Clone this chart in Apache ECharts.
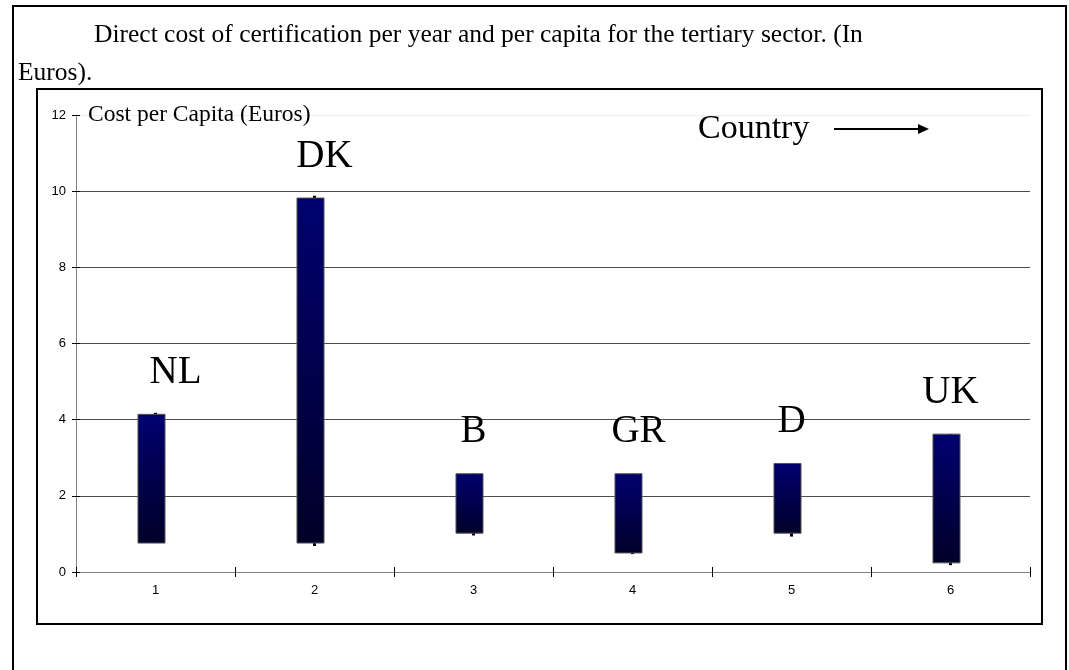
<!DOCTYPE html>
<html>
<head>
<meta charset="utf-8">
<script src="https://cdn.jsdelivr.net/npm/echarts@6/dist/echarts.min.js"></script>
<style>
  html, body { margin: 0; padding: 0; background: #fff; }
  #main { width: 1069px; height: 670px; }
</style>
</head>
<body>
<div id="main"></div>
<script>
// data
var categories = ['1', '2', '3', '4', '5', '6'];
var countries = ['NL', 'DK', 'B', 'GR', 'D', 'UK'];
var barLow = [0.76, 0.76, 1.02, 0.50, 1.02, 0.24];
var barHigh = [4.14, 9.82, 2.58, 2.58, 2.85, 3.62];
var wickLow = [0.76, 0.68, 0.96, 0.47, 0.93, 0.18];
var wickHigh = [4.18, 9.88, 2.58, 2.58, 2.85, 3.62];
var yTicks = [0, 2, 4, 6, 8, 10, 12];

// small tweaks for where the country labels sit
var labelDx = [20, 10, 0, 6, 0, 0];

var chart = echarts.init(document.getElementById('main'));

var seriesData = categories.map(function (c, i) {
  return [i, barLow[i], barHigh[i], wickLow[i], wickHigh[i]];
});

function renderItem(params, api) {
  var i = api.value(0);
  var lo = api.coord([i, api.value(1)]);
  var hi = api.coord([i, api.value(2)]);
  var wl = api.coord([i, api.value(3)]);
  var wh = api.coord([i, api.value(4)]);
  var bw = api.size([1, 0])[0] * 0.17;
  var x = lo[0] - 4;
  return {
    type: 'group',
    children: [
      {
        type: 'line',
        shape: { x1: wl[0], y1: wl[1], x2: wh[0], y2: wh[1] },
        style: { stroke: '#000', lineWidth: 3 },
        z2: 1
      },
      {
        type: 'rect',
        shape: { x: x - bw / 2, y: hi[1], width: bw, height: lo[1] - hi[1] },
        style: {
          fill: new echarts.graphic.LinearGradient(0, 0, 0, 1, [
            { offset: 0, color: '#000070' },
            { offset: 1, color: '#000028' }
          ]),
          stroke: '#555',
          lineWidth: 1
        },
        z2: 2
      },
      {
        type: 'text',
        x: lo[0] + labelDx[i],
        y: hi[1] - 22,
        style: {
          text: countries[i],
          fill: '#000',
          font: '39px "Liberation Serif", serif',
          align: 'center',
          verticalAlign: 'bottom'
        },
        z2: 3
      }
    ]
  };
}

var option = {
  backgroundColor: '#fff',
  animation: false,
  grid: { left: 76, top: 115, right: 39, bottom: 98 },
  xAxis: [
    {
      type: 'category',
      data: categories,
      boundaryGap: true,
      axisLine: { lineStyle: { color: '#808080', width: 1 } },
      axisTick: { show: true, length: 5, lineStyle: { color: '#000' } },
      axisLabel: { color: '#000', fontFamily: 'Arial, "Liberation Sans"', fontSize: 13, margin: 12 },
      splitLine: { show: false }
    },
    {
      type: 'category',
      data: categories,
      position: 'bottom',
      boundaryGap: true,
      axisLine: { show: false },
      axisTick: { show: true, inside: true, length: 5, lineStyle: { color: '#000' } },
      axisLabel: { show: false }
    }
  ],
  yAxis: [
    {
      type: 'value',
      min: 0,
      max: 12,
      interval: 2,
      name: 'Cost per Capita (Euros)',
      nameLocation: 'end',
      nameGap: 0,
      nameTextStyle: {
        color: '#000',
        fontFamily: '"Liberation Serif", serif',
        fontSize: 23.5,
        align: 'left',
        verticalAlign: 'middle',
        padding: [0, 0, 0, 12]
      },
      axisLine: { show: true, lineStyle: { color: '#808080', width: 1 } },
      axisTick: { show: true, length: 4, lineStyle: { color: '#000' } },
      axisLabel: {
        color: '#000',
        fontFamily: 'Arial, "Liberation Sans"',
        fontSize: 13,
        margin: 10,
        formatter: function (v) { return yTicks.indexOf(v) >= 0 ? String(v) : ''; }
      },
      splitLine: {
        show: true,
        lineStyle: { color: ['#4d4d4d', '#4d4d4d', '#4d4d4d', '#4d4d4d', '#4d4d4d', '#4d4d4d', '#eeeeee'], width: 1 }
      }
    },
    {
      type: 'value',
      min: 0,
      max: 12,
      interval: 2,
      position: 'left',
      axisLine: { show: false },
      axisTick: { show: true, inside: true, length: 4, lineStyle: { color: '#000' } },
      axisLabel: { show: false },
      splitLine: { show: false }
    }
  ],
  series: [
    {
      type: 'custom',
      renderItem: renderItem,
      data: seriesData,
      encode: { x: 0, y: [1, 2, 3, 4] },
      clip: false,
      z: 5
    }
  ],
  graphic: [
    // outer frame (open at the bottom)
    {
      type: 'polyline',
      shape: { points: [[13, 672], [13, 6], [1066, 6], [1066, 672]] },
      style: { stroke: '#000', lineWidth: 2, fill: null },
      silent: true
    },
    // inner chart box
    {
      type: 'rect',
      shape: { x: 37, y: 89, width: 1005, height: 535 },
      style: { stroke: '#000', lineWidth: 2, fill: null },
      silent: true
    },
    {
      type: 'text',
      left: 94,
      top: 22,
      style: {
        text: 'Direct cost of certification per year and per capita for the tertiary sector. (In',
        fill: '#000',
        font: '25.5px "Liberation Serif", serif'
      }
    },
    {
      type: 'text',
      left: 18,
      top: 60,
      style: { text: 'Euros).', fill: '#000', font: '25.5px "Liberation Serif", serif' }
    },
    {
      type: 'text',
      left: 698,
      top: 112,
      style: { text: 'Country', fill: '#000', font: '34px "Liberation Serif", serif' }
    },
    {
      type: 'line',
      shape: { x1: 834, y1: 129, x2: 920, y2: 129 },
      style: { stroke: '#000', lineWidth: 2 }
    },
    {
      type: 'polygon',
      shape: { points: [[918, 124], [929, 129], [918, 134]] },
      style: { fill: '#000' }
    }
  ]
};

chart.setOption(option);
</script>
</body>
</html>
